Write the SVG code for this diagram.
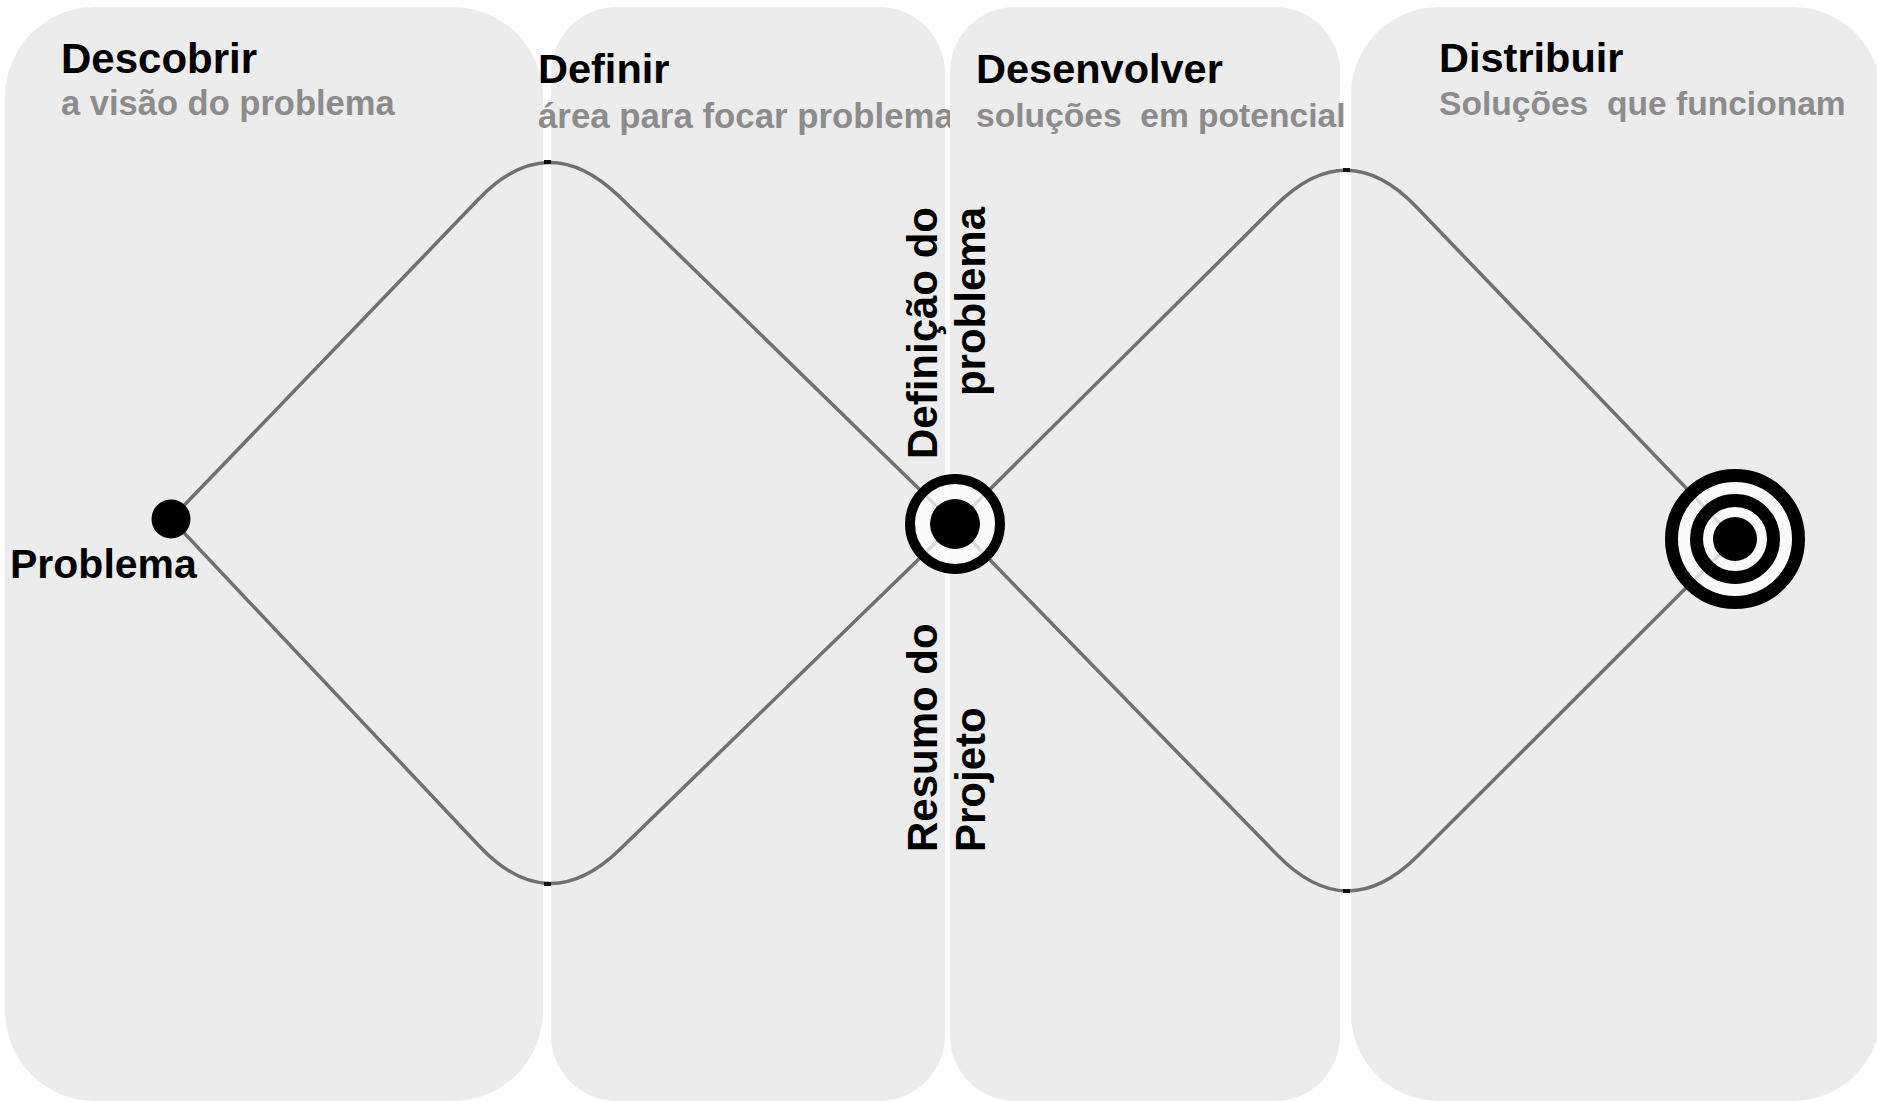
<svg xmlns="http://www.w3.org/2000/svg" width="1877" height="1102" viewBox="0 0 1877 1102">
<style>
.panel{fill:#ececec;stroke:none}
.t{font-family:"Liberation Sans",Arial,sans-serif;font-weight:bold;fill:#000}
.title{font-size:41.5px}
.sub{font-size:34.5px;fill:#8c8c8c}
.vt{font-size:42px}
.line{fill:none;stroke:#707070;stroke-width:3.5}
.ring{fill:none;stroke:#000}
.halo{fill:#fff;fill-opacity:0.75}
.tick{fill:#111}
</style>
<rect width="1877" height="1102" fill="#fff"/>
<g id="phase-descobrir">
<rect class="panel" x="5" y="7" width="538" height="1094" rx="90" ry="90"/>
<text class="t title" x="61" y="73" style="font-size:42px">Descobrir</text>
<text class="t sub" x="61" y="115">a visão do problema</text>
</g>
<g id="phase-definir">
<rect class="panel" x="551" y="7" width="394" height="1094" rx="66" ry="66"/>
<text class="t title" x="538" y="83">Definir</text>
<text class="t sub" x="538" y="128" style="font-size:34.8px">área para focar problema</text>
</g>
<g id="phase-desenvolver">
<rect class="panel" x="950" y="7" width="390" height="1094" rx="65" ry="65"/>
<text class="t title" x="976" y="83">Desenvolver</text>
<text class="t sub" x="976" y="127" style="font-size:33.6px" xml:space="preserve">soluções  em potencial</text>
</g>
<g id="phase-distribuir">
<rect class="panel" x="1351" y="7" width="530" height="1094" rx="88" ry="88"/>
<text class="t title" x="1439" y="72">Distribuir</text>
<text class="t sub" x="1439" y="115" style="font-size:33.6px" xml:space="preserve">Soluções  que funcionam</text>
</g>
<g id="connectors">
<path class="line" d="M171,519 L478.7,199 Q548,127 619.6,196.8 L955,524 L619.8,849.4 Q548,919 479.4,846.2 Z"/>
<path class="line" d="M955,524 L1276.1,205 Q1347,134.5 1416.2,206.7 L1735,539 L1417.8,855.8 Q1347,926.5 1277.2,854.9 Z"/>
<rect class="tick" x="544" y="160" width="7" height="4"/>
<rect class="tick" x="544" y="882" width="7" height="4"/>
<rect class="tick" x="1343" y="168" width="7" height="4"/>
<rect class="tick" x="1343" y="889" width="7" height="4"/>
</g>
<g id="node-problema">
<circle cx="171" cy="519" r="19.5" fill="#000"/>
<text class="t" style="font-size:41px" x="10" y="578">Problema</text>
</g>
<g id="node-definicao">
<circle class="halo" cx="955" cy="524" r="48"/>
<circle class="ring" cx="955" cy="524" r="45" stroke-width="10"/>
<circle cx="955" cy="524" r="25" fill="#000"/>
<text class="t vt" text-anchor="end" transform="translate(937,207) rotate(-90)">Definição do</text>
<text class="t vt" text-anchor="end" transform="translate(985,207) rotate(-90)">problema</text>
<text class="t vt" text-anchor="start" transform="translate(937,852) rotate(-90)">Resumo do</text>
<text class="t vt" text-anchor="start" transform="translate(985,852) rotate(-90)">Projeto</text>
</g>
<g id="node-solucao">
<circle class="halo" cx="1735" cy="539" r="68"/>
<circle class="ring" cx="1735" cy="539" r="63.5" stroke-width="13"/>
<circle class="ring" cx="1735" cy="539" r="38.5" stroke-width="13"/>
<circle cx="1735" cy="539" r="22" fill="#000"/>
</g>
</svg>
